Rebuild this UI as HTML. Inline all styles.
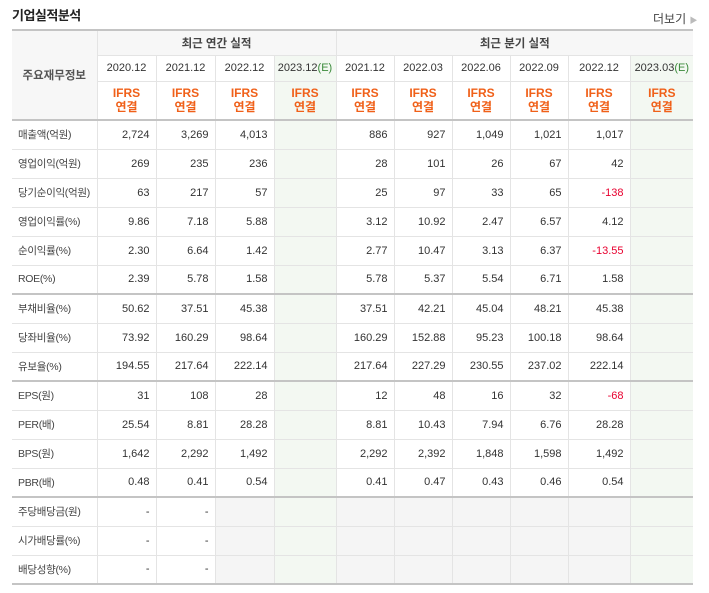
<!DOCTYPE html>
<html><head><meta charset="utf-8">
<style>
body{margin:0;background:#fff;width:709px;height:593px;overflow:hidden;font-family:"Liberation Sans","Noto Sans CJK KR",sans-serif;}
.title{position:absolute;left:12px;top:5px;font-size:13px;font-weight:bold;color:#222;letter-spacing:-0.5px}
.more{position:absolute;left:653px;top:10px;font-size:12px;color:#444}
.more span{color:#bbb;font-size:8px}
table{position:absolute;left:12px;top:29px;border-collapse:collapse;table-layout:fixed;width:681px;font-size:11px;color:#333}
td,th{border:1px solid #e4e4e4;padding:0;font-weight:normal;overflow:hidden;white-space:nowrap;box-sizing:border-box}
td{height:29px}
th{background:#fff;text-align:center}
.h1 th{height:25px;background:#f7f7f7;font-weight:bold;color:#444;font-size:11.5px}
.h2 th{height:26px}
.h3 th{height:39px;color:#f06019;font-weight:bold;font-size:12px;line-height:14px}
.lab{background:#fff;text-align:left;padding-left:6px;color:#444;font-size:10.5px;letter-spacing:-0.3px}
th.lab0{background:#f7f7f7;font-weight:bold;color:#555}
td.v{text-align:right;padding-right:6px}
.g{background:#f3f8f2 !important}
.gray{background:#f5f5f5}
.neg{color:#e8002f}
.e{color:#3a8a3a}
.sepL{border-left:1px solid #bbb}
.top{border-top:2px solid #c4c4c4}
table{border-top:2px solid #c4c4c4;border-bottom:2px solid #c4c4c4}
table td:first-child,table th:first-child{border-left:none}
table td:last-child,table th:last-child{border-right:none}
</style></head><body>
<div class="title">기업실적분석</div>
<div class="more">더보기 <span>▶</span></div>
<table id="t">
<colgroup><col style="width:85px"><col style="width:59px"><col style="width:59px"><col style="width:59px"><col style="width:62px"><col style="width:58px"><col style="width:58px"><col style="width:58px"><col style="width:58px"><col style="width:62px"><col style="width:63px"></colgroup>
<tbody id="tb"></tbody>
</table>
<script>
const periods=["2020.12","2021.12","2022.12","2023.12(E)","2021.12","2022.03","2022.06","2022.09","2022.12","2023.03(E)"];
const rowLabels=["매출액(억원)","영업이익(억원)","당기순이익(억원)","영업이익률(%)","순이익률(%)","ROE(%)","부채비율(%)","당좌비율(%)","유보율(%)","EPS(원)","PER(배)","BPS(원)","PBR(배)","주당배당금(원)","시가배당률(%)","배당성향(%)"];
const values=[
["2,724","3,269","4,013","","886","927","1,049","1,021","1,017",""],
["269","235","236","","28","101","26","67","42",""],
["63","217","57","","25","97","33","65","-138",""],
["9.86","7.18","5.88","","3.12","10.92","2.47","6.57","4.12",""],
["2.30","6.64","1.42","","2.77","10.47","3.13","6.37","-13.55",""],
["2.39","5.78","1.58","","5.78","5.37","5.54","6.71","1.58",""],
["50.62","37.51","45.38","","37.51","42.21","45.04","48.21","45.38",""],
["73.92","160.29","98.64","","160.29","152.88","95.23","100.18","98.64",""],
["194.55","217.64","222.14","","217.64","227.29","230.55","237.02","222.14",""],
["31","108","28","","12","48","16","32","-68",""],
["25.54","8.81","28.28","","8.81","10.43","7.94","6.76","28.28",""],
["1,642","2,292","1,492","","2,292","2,392","1,848","1,598","1,492",""],
["0.48","0.41","0.54","","0.41","0.47","0.43","0.46","0.54",""],
["-","-",null,null,null,null,null,null,null,null],
["-","-",null,null,null,null,null,null,null,null],
["-","-",null,null,null,null,null,null,null,null]];
const groupStarts=[6,9,13];
const tb=document.getElementById('tb');
let h='<tr class="h1"><th class="lab0" rowspan="3">주요재무정보</th><th colspan="4">최근 연간 실적</th><th colspan="6" class="sepL">최근 분기 실적</th></tr>';
h+='<tr class="h2">';
periods.forEach((p,i)=>{const g=p.includes('(E)');const t=g?p.replace('(E)','<span class="e">(E)</span>'):p;h+=`<th class="${g?'g':''} ${i==4?'sepL':''}">${t}</th>`;});
h+='</tr><tr class="h3">';
periods.forEach((p,i)=>{h+=`<th class="${p.includes('(E)')?'g':''} ${i==4?'sepL':''}">IFRS<br>연결</th>`;});
h+='</tr>';
rowLabels.forEach((l,r)=>{
 const top=(r==0||groupStarts.includes(r))?' top':'';
 h+=`<tr><td class="lab${top}">${l}</td>`;
 values[r].forEach((v,i)=>{
  const g=periods[i].includes('(E)');
  let cls='v'+top+(g?' g':'')+(i==4?' sepL':'');
  if(v===null&&!g)cls+=' gray';
  if(v&&v.startsWith('-')&&v.length>1)cls+=' neg';
  h+=`<td class="${cls}">${v||''}</td>`;
 });
 h+='</tr>';
});
tb.innerHTML=h;
</script>
</body></html>
